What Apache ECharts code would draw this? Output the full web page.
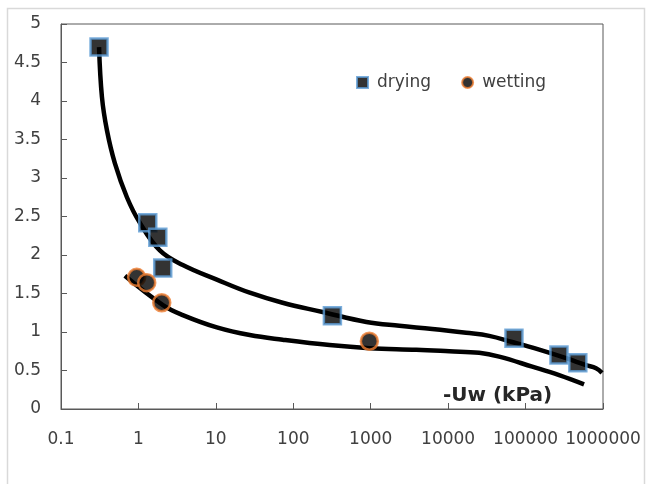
<!DOCTYPE html>
<html>
<head>
<meta charset="utf-8">
<script src="https://cdn.jsdelivr.net/npm/echarts@6/dist/echarts.min.js"></script>
<style>
  html, body { margin: 0; padding: 0; background: #fff; }
  #chart { width: 654px; height: 484px; }
</style>
</head>
<body>
<div id="chart"></div>
<script>
// measured points
const dryingX = [0.31, 1.32, 1.78, 2.06, 320, 70800, 270000, 473000];
const dryingY = [4.70, 2.42, 2.23, 1.83, 1.21, 0.92, 0.70, 0.60];
const wettingX = [0.95, 1.28, 2.0, 960];
const wettingY = [1.71, 1.64, 1.38, 0.88];

// fitted curves
const dryFitX = [0.31, 0.338, 0.392, 0.497, 0.71, 1.04, 1.89, 3.74, 10.3, 27.4, 72.8, 239, 881, 2346, 6250, 17100, 33900, 67100, 150000, 333000, 604000, 813000, 971000];
const dryFitY = [4.70, 4.05, 3.62, 3.19, 2.75, 2.42, 2.06, 1.87, 1.68, 1.51, 1.38, 1.26, 1.13, 1.08, 1.04, 0.99, 0.95, 0.87, 0.77, 0.66, 0.57, 0.53, 0.47];
const wetFitX = [0.668, 2.07, 3.74, 10.3, 27.4, 72.8, 294, 964, 3880, 10350, 25200, 45600, 122000, 271000, 569000];
const wetFitY = [1.73, 1.35, 1.22, 1.06, 0.96, 0.90, 0.83, 0.79, 0.77, 0.75, 0.73, 0.68, 0.55, 0.44, 0.32];

const xTickLabels = ['0.1', '1', '10', '100', '1000', '10000', '100000', '1000000'];

const zip = (xs, ys) => xs.map((x, i) => [x, ys[i]]);
const font = 'DejaVu Sans';
const textColor = '#404040';

const chart = echarts.init(document.getElementById('chart'), null, { renderer: 'canvas' });

chart.setOption({
  animation: false,
  backgroundColor: '#fff',
  grid: {
    left: 61,
    right: 51,
    top: 24,
    bottom: 75,
    show: true,
    borderColor: '#595959',
    borderWidth: 1,
  },
  legend: {
    left: 351,
    top: 69,
    itemWidth: 11,
    itemHeight: 11,
    itemGap: 30,
    selectedMode: false,
    textStyle: {
      fontFamily: font,
      fontSize: 17,
      color: textColor,
      padding: [0, 0, 0, 4],
    },
    data: [
      { name: 'drying', icon: 'rect' },
      { name: 'wetting', icon: 'circle' },
    ],
  },
  xAxis: {
    type: 'log',
    logBase: 10,
    min: 0.1,
    max: 1000000,
    axisLine: { lineStyle: { color: '#595959', width: 1 } },
    axisTick: { inside: true, length: 6, lineStyle: { color: '#595959' } },
    splitLine: { show: false },
    axisLabel: {
      margin: 22,
      fontFamily: font,
      fontSize: 17,
      color: textColor,
      formatter: (v) => {
        const i = Math.round(Math.log10(v)) + 1;
        return xTickLabels[i] !== undefined ? xTickLabels[i] : '';
      },
    },
  },
  yAxis: {
    type: 'value',
    min: 0,
    max: 5,
    interval: 0.5,
    axisLine: { show: true, lineStyle: { color: '#595959', width: 1 } },
    axisTick: { show: true, inside: true, length: 6, lineStyle: { color: '#595959' } },
    splitLine: { show: false },
    axisLabel: {
      margin: 20,
      fontFamily: font,
      fontSize: 17,
      color: textColor,
    },
  },
  graphic: [
    {
      type: 'rect',
      silent: true,
      shape: { x: 7.5, y: 8.5, width: 637, height: 500 },
      style: { fill: 'none', stroke: '#d9d9d9', lineWidth: 1.5 },
      z: -1,
    },
    {
      type: 'text',
      x: 443,
      y: 396,
      style: {
        text: '-Uw (kPa)',
        fontFamily: font,
        fontSize: 20,
        fontWeight: 'bold',
        fill: '#262626',
        verticalAlign: 'middle',
      },
      z: 10,
    },
  ],
  series: [
    {
      name: 'dryingFit',
      type: 'line',
      data: zip(dryFitX, dryFitY),
      smooth: 0.4,
      showSymbol: false,
      lineStyle: { color: '#000', width: 4.5 },
      z: 2,
    },
    {
      name: 'wettingFit',
      type: 'line',
      data: zip(wetFitX, wetFitY),
      smooth: 0.4,
      showSymbol: false,
      lineStyle: { color: '#000', width: 4.5 },
      z: 2,
    },
    {
      name: 'drying',
      type: 'scatter',
      symbol: 'rect',
      symbolSize: 17,
      data: zip(dryingX, dryingY),
      itemStyle: { color: '#000', borderColor: '#5b9bd5', borderWidth: 2.5 },
      z: 3,
    },
    {
      name: 'wetting',
      type: 'scatter',
      symbol: 'circle',
      symbolSize: 17,
      data: zip(wettingX, wettingY),
      itemStyle: { color: '#000', borderColor: '#ed7d31', borderWidth: 2.5 },
      z: 3,
    },
  ],
});
</script>
</body>
</html>
